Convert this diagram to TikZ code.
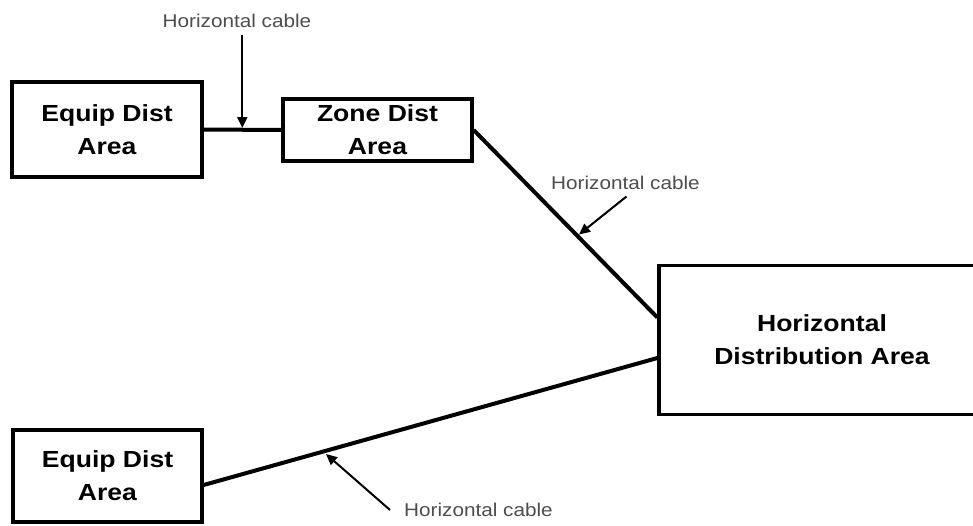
\documentclass[tikz,border=0pt]{standalone}
\usepackage{fontspec}
\usetikzlibrary{arrows.meta}
\newfontfamily\areafont[FakeStretch=1.14]{Liberation Sans}
\newfontfamily\cablefont[FakeStretch=1.12]{Liberation Sans}
\definecolor{labelgray}{HTML}{4D4D4D}
\begin{document}
\begin{tikzpicture}[x=1pt,y=-1pt,
  area/.style={draw=black, line width=3.3pt, fill=white, inner sep=0pt,
    align=center, font=\areafont\fontsize{23.3}{33}\selectfont\bfseries},
  cable/.style={line width=4pt, line cap=butt},
  callout/.style={text=labelgray, inner sep=0pt,
    font=\cablefont\fontsize{18.5}{22}\selectfont},
  pointer/.style={line width=2pt, -{Triangle[length=11pt,width=10pt]}}]
  \useasboundingbox (0,0) rectangle (973,525);
  \clip (0,0) rectangle (973,525);

  % distribution areas
  \node[area, minimum width=190pt, minimum height=95pt] (eda1) at (107,129.5) {Equip Dist\\Area};
  \node[area, minimum width=189pt, minimum height=62pt] (zda) at (377.5,130) {Zone Dist\\Area};
  \node[area, minimum width=326pt, minimum height=148.5pt] (hda) at (822,340) {Horizontal\\Distribution Area};
  \node[area, minimum width=189pt, minimum height=92pt] (eda2) at (107.5,476) {Equip Dist\\Area};

  % horizontal cabling
  \draw[cable] (eda1.east) -- (zda.west);
  \draw[cable] (zda.east) -- ([yshift=22.5pt]hda.west);
  \draw[cable] ([yshift=-9pt]eda2.east) -- ([yshift=-18pt]hda.west);

  % cable callouts
  \node[callout] (lbl1) at (237,20.5) {Horizontal cable};
  \node[callout] (lbl2) at (625.5,183) {Horizontal cable};
  \node[callout, anchor=west] (lbl3) at (404,510) {Horizontal cable};

  \coordinate (t1) at (242.3,35);
  \coordinate (h1) at (242.3,128);
  \coordinate (t2) at (626.5,196.5);
  \coordinate (h2) at (579,234.5);
  \coordinate (t3) at (390,510);
  \coordinate (h3) at (326,454);

  \draw[pointer] (t1) -- (h1);
  \draw[pointer] (t2) -- (h2);
  \draw[pointer] (t3) -- (h3);
\end{tikzpicture}
\end{document}
